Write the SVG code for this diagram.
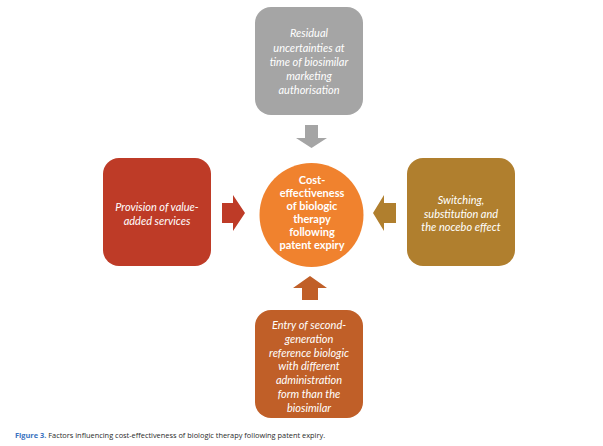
<svg xmlns="http://www.w3.org/2000/svg" width="603" height="446" viewBox="0 0 603 446">
<style>
.bt{font-family:Lato,"Open Sans","Liberation Sans",sans-serif;font-style:italic;font-size:11px;fill:#fff;text-anchor:middle}
.ct{font-family:Lato,"Open Sans","Liberation Sans",sans-serif;font-weight:bold;font-size:11px;fill:#fff;text-anchor:middle}
.cap{font-family:"Open Sans","Liberation Sans",sans-serif;font-size:7.4px;fill:#2a2a2a}
</style>
<rect width="603" height="446" fill="#fff"/>
<g id="connectors">
<polygon fill="#a5a5a5" points="305,125 318,125 318,138 327,138 311.5,148 296,138 305,138"/>
<polygon fill="#be3b27" points="222,203 233,203 233,195 245,213 233,231 233,223 222,223"/>
<polygon fill="#b07f2e" points="396,203 384,203 384,195 373,213 384,231 384,223 396,223"/>
<polygon fill="#c05f28" points="302,300 318,300 318,288 327,288 310,276 293,288 302,288"/>
</g>
<g id="top">
<rect x="255" y="7" width="108" height="108" rx="16" fill="#a5a5a5"/>
<text class="bt" x="309" y="37">Residual</text>
<text class="bt" x="309" y="51.5">uncertainties at</text>
<text class="bt" x="309" y="66">time of biosimilar</text>
<text class="bt" x="309" y="80">marketing</text>
<text class="bt" x="309" y="94">authorisation</text>
</g>
<g id="left">
<rect x="103" y="158" width="108" height="108" rx="16" fill="#be3b27"/>
<text class="bt" x="157" y="210.5">Provision of value-</text>
<text class="bt" x="157" y="224.5">added services</text>
</g>
<g id="right">
<rect x="407" y="158" width="108" height="108" rx="16" fill="#b07f2e"/>
<text class="bt" x="461" y="204">Switching,</text>
<text class="bt" x="461" y="217.5">substitution and</text>
<text class="bt" x="461" y="231">the nocebo effect</text>
</g>
<g id="bottom">
<rect x="255" y="310" width="108" height="108" rx="16" fill="#c05f28"/>
<text class="bt" x="309" y="329">Entry of second-</text>
<text class="bt" x="309" y="343">generation</text>
<text class="bt" x="309" y="356.5">reference biologic</text>
<text class="bt" x="309" y="370">with different</text>
<text class="bt" x="309" y="384">administration</text>
<text class="bt" x="309" y="398">form than the</text>
<text class="bt" x="309" y="411.5">biosimilar</text>
</g>
<g id="center">
<circle cx="311.5" cy="215" r="52" fill="#f0822e"/>
<text class="ct" x="312" y="184">Cost-</text>
<text class="ct" x="312" y="197">effectiveness</text>
<text class="ct" x="312" y="210">of biologic</text>
<text class="ct" x="312" y="223">therapy</text>
<text class="ct" x="312" y="236">following</text>
<text class="ct" x="312" y="249">patent expiry</text>
</g>
<text class="cap" x="15" y="437.5"><tspan font-weight="bold" fill="#3a72c0">Figure 3.</tspan> Factors influencing cost-effectiveness of biologic therapy following patent expiry.</text>
</svg>
